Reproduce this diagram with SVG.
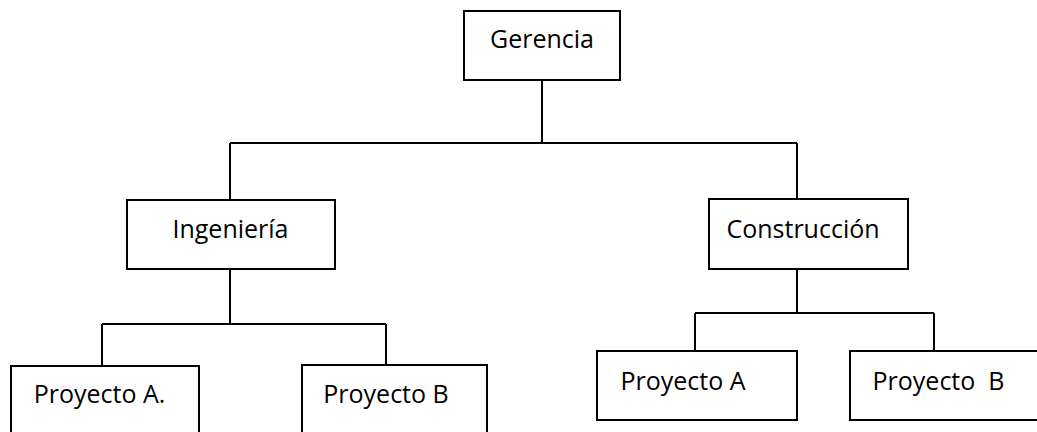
<svg xmlns="http://www.w3.org/2000/svg" width="1037" height="432" viewBox="0 0 1037 432">
  <style>
    .box { fill: #ffffff; stroke: #000000; stroke-width: 2; }
    .link { fill: none; stroke: #000000; stroke-width: 2; }
    .label { font-family: "Open Sans", "Noto Sans", sans-serif; font-size: 25px; fill: #000000; text-anchor: middle; }
  </style>
  <rect width="1037" height="432" fill="#ffffff"/>

  <!-- connectors -->
  <g id="connectors">
    <path class="link" d="M542 80 V143 M230 143 H797 M230 143 V200 M797 143 V199"/>
    <path class="link" d="M230 269 V324 M102 324 H386 M102 324 V366 M386 324 V365"/>
    <path class="link" d="M797 269 V313 M695 313 H934 M695 313 V351 M934 313 V351"/>
  </g>

  <g id="gerencia">
    <rect class="box" x="464" y="11" width="156" height="69"/>
    <text class="label" x="542" y="48">Gerencia</text>
  </g>

  <g id="ingenieria">
    <rect class="box" x="127" y="200" width="208" height="69"/>
    <text class="label" x="230.5" y="238">Ingeniería</text>
  </g>

  <g id="construccion">
    <rect class="box" x="709" y="199" width="199" height="70"/>
    <text class="label" x="803" y="238">Construcción</text>
  </g>

  <g id="ing-proyecto-a">
    <rect class="box" x="11" y="366" width="188" height="80"/>
    <text class="label" x="99.5" y="403">Proyecto A.</text>
  </g>

  <g id="ing-proyecto-b">
    <rect class="box" x="302" y="365" width="185" height="80"/>
    <text class="label" x="386" y="403">Proyecto B</text>
  </g>

  <g id="con-proyecto-a">
    <rect class="box" x="597" y="351" width="200" height="69"/>
    <text class="label" x="683" y="390">Proyecto A</text>
  </g>

  <g id="con-proyecto-b">
    <rect class="box" x="850" y="351" width="200" height="69"/>
    <text class="label" x="938.5" y="390" xml:space="preserve">Proyecto  B</text>
  </g>
</svg>
